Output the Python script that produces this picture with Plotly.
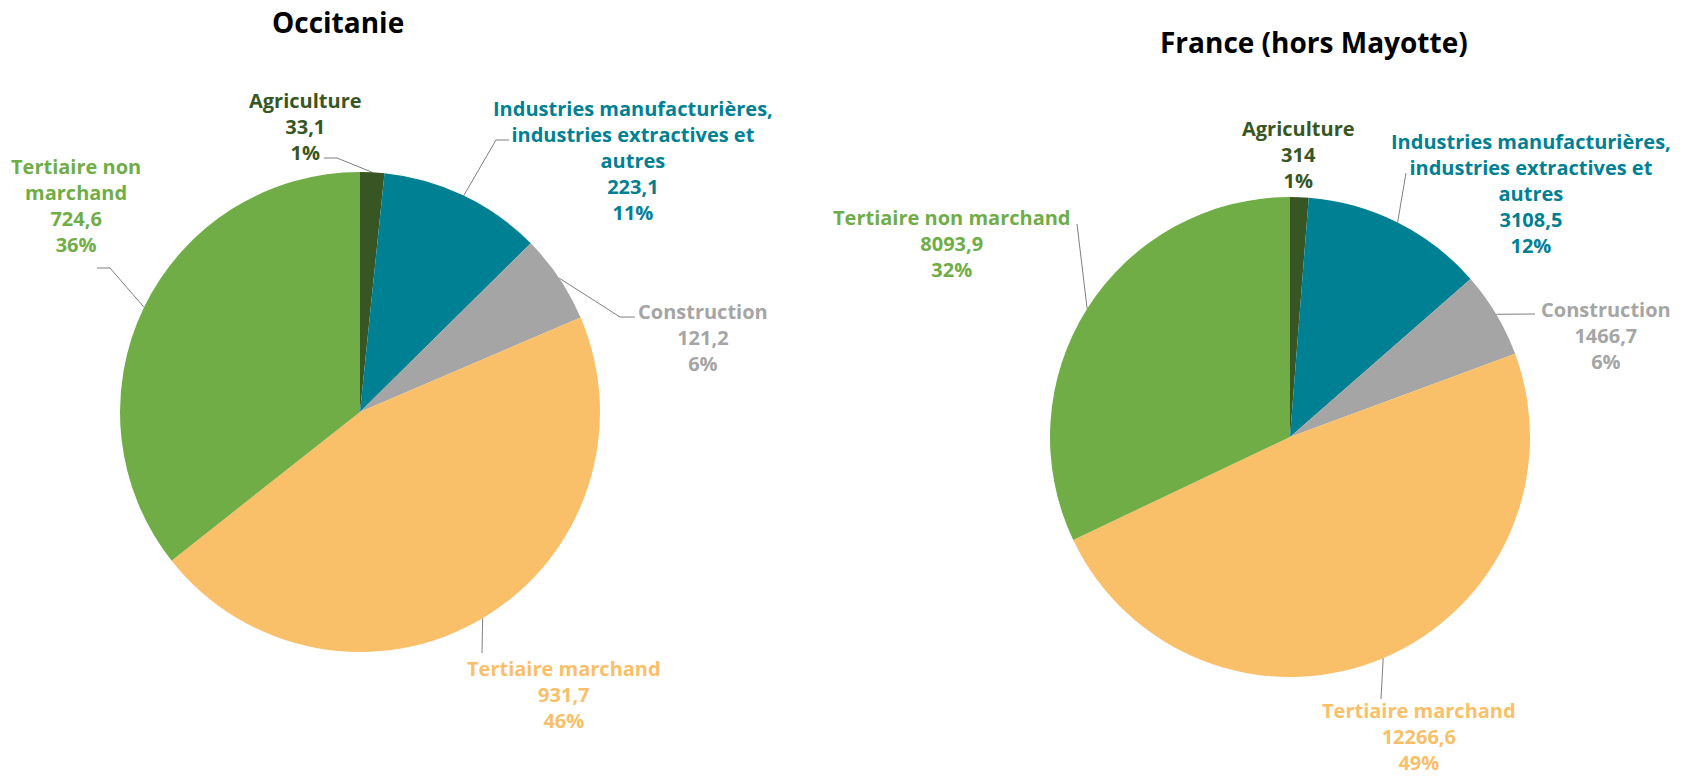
import math
import plotly.graph_objects as go

# ---- data ----
categories = ["Agriculture", "Industries manufacturières, industries extractives et autres",
              "Construction", "Tertiaire marchand", "Tertiaire non marchand"]
label_names_occ = ["Agriculture", "Industries manufacturières,<br>industries extractives et<br>autres",
                   "Construction", "Tertiaire marchand", "Tertiaire non<br>marchand"]
label_names_fr = ["Agriculture", "Industries manufacturières,<br>industries extractives et<br>autres",
                  "Construction", "Tertiaire marchand", "Tertiaire non marchand"]
values_occ = [33.1, 223.1, 121.2, 931.7, 724.6]
values_fr = [314, 3108.5, 1466.7, 12266.6, 8093.9]
pct_occ = ["1%", "11%", "6%", "46%", "36%"]
pct_fr = ["1%", "12%", "6%", "49%", "32%"]
titles = ["Occitanie", "France (hors Mayotte)"]

colors = ["#375623", "#008093", "#A5A5A5", "#F9BF69", "#70AD47"]

# ---- layout constants (pixels) ----
W, H = 1690, 777
R = 240
centers = [(360, 412), (1290, 437)]
title_pos = [(338, 22), (1314, 42)]
label_pos = [
    [(305, 126), (633, 160), (703, 337), (564, 694), (76, 205)],
    [(1298, 154), (1531, 193), (1606, 335), (1419, 736), (952, 243)],
]
# leader line points on the label side (None = no leader)
leader_start = [
    [[(324, 158), (337, 158)], [(509, 140), (496, 140)], [(635, 317), (620, 317)],
     [(482, 653)], [(97, 268), (110, 268)]],
    [None, [(1406, 173)], [(1535, 314)], [(1381, 699)], [(1077, 224)]],
]

fig = go.Figure()

datasets = [(values_occ, pct_occ, label_names_occ), (values_fr, pct_fr, label_names_fr)]

annotations = []
for k, (vals, pcts, names) in enumerate(datasets):
    cx, cy = centers[k]
    fig.add_trace(go.Pie(
        labels=categories, values=vals, sort=False, direction="clockwise",
        rotation=0, textinfo="none", hoverinfo="label+value+percent",
        marker=dict(colors=colors, line=dict(width=0)),
        domain=dict(x=[(cx - R) / W, (cx + R) / W], y=[(H - cy - R) / H, (H - cy + R) / H]),
        showlegend=False,
    ))
    total = sum(vals)
    cum = 0.0
    for i, v in enumerate(vals):
        mid = (cum + v / 2) / total * 2 * math.pi
        cum += v
        ex = cx + R * math.sin(mid)
        ey = cy - R * math.cos(mid)
        pts = leader_start[k][i]
        if pts:
            xs = [p[0] for p in pts] + [ex]
            ys = [p[1] for p in pts] + [ey]
            fig.add_trace(go.Scatter(x=xs, y=ys, mode="lines",
                                     line=dict(color="#7F7F7F", width=1),
                                     hoverinfo="skip", showlegend=False))
        val_txt = f"{v:g}".replace(".", ",")
        lx, ly = label_pos[k][i]
        annotations.append(dict(
            x=lx, y=ly, xref="x", yref="y", showarrow=False,
            text=f"<b>{names[i]}<br>{val_txt}<br>{pcts[i]}</b>",
            font=dict(family="Open Sans", size=20, color=colors[i]),
            xanchor="center", yanchor="middle", align="center",
        ))
    tx, ty = title_pos[k]
    annotations.append(dict(
        x=tx, y=ty, xref="x", yref="y", showarrow=False,
        text=f"<b>{titles[k]}</b>",
        font=dict(family="Open Sans", size=28, color="#000000"),
        xanchor="center", yanchor="middle",
    ))

fig.update_layout(
    width=W, height=H, margin=dict(l=0, r=0, t=0, b=0),
    paper_bgcolor="white", plot_bgcolor="rgba(0,0,0,0)",
    xaxis=dict(range=[0, W], visible=False, domain=[0, 1], fixedrange=True),
    yaxis=dict(range=[H, 0], visible=False, domain=[0, 1], fixedrange=True),
    annotations=annotations,
)

fig.write_html("out.html", config={"displayModeBar": False},
               post_script="document.body.style.margin='0';document.body.style.overflow='hidden';")
